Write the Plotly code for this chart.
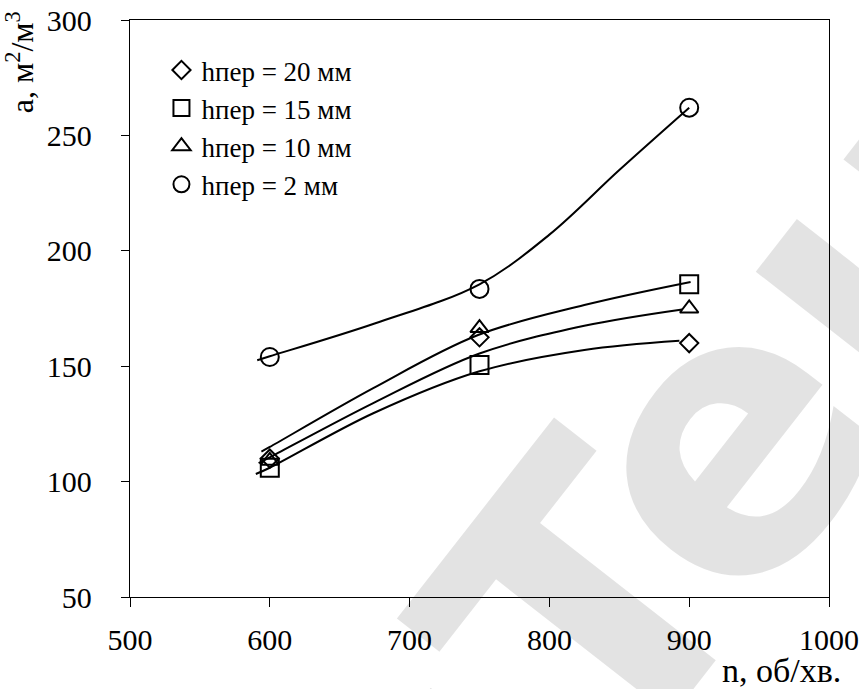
import plotly.graph_objects as go

# --- data ---
n_points = [600, 750, 900]
a_h20 = [110, 162.5, 160]
a_h15 = [106, 150.5, 185.5]
a_h10 = [109, 166.5, 175]
a_h2 = [154, 183.5, 262]

series_names = ["hпер = 20 мм", "hпер = 15 мм", "hпер = 10 мм", "hпер = 2 мм"]

# smooth trend curves as drawn in the picture
curve_a_x = [594, 600, 674, 749, 825, 901]
curve_a_y = [113, 115, 140.5, 163.5, 176.5, 186.5]
curve_b_x = [592, 600, 674, 750, 825, 895]
curve_b_y = [108, 110.5, 134, 155.5, 167.5, 174.6]
curve_c_x = [590, 600, 674, 750, 825, 893]
curve_c_y = [103.3, 106, 129.6, 147.8, 157, 161]
curve_d_x = [591, 600, 675, 750, 800, 850, 900]
curve_d_y = [152.6, 154.3, 168.5, 185.5, 207, 235, 262]

x_ticks = [500, 600, 700, 800, 900, 1000]
y_ticks = [50, 100, 150, 200, 250, 300]

FONT = "Liberation Serif, Times New Roman, serif"

fig = go.Figure()

for cx, cy in [(curve_d_x, curve_d_y), (curve_a_x, curve_a_y),
               (curve_b_x, curve_b_y), (curve_c_x, curve_c_y)]:
    fig.add_trace(go.Scatter(x=cx, y=cy, mode="lines",
                             line=dict(color="black", width=2, shape="spline", smoothing=1.0),
                             showlegend=False, hoverinfo="skip"))

symbols = ["diamond-open", "square-open", "triangle-up-open", "circle-open"]
sizes = [14, 18, 16, 18]
for name, vals, sym, sz in zip(series_names, [a_h20, a_h15, a_h10, a_h2], symbols, sizes):
    fig.add_trace(go.Scatter(x=n_points, y=vals, mode="markers", name=name,
                             marker=dict(symbol=sym, size=sz, color="black",
                                         line=dict(color="black", width=2))))

fig.update_layout(
    width=859, height=689,
    autosize=False,
    margin=dict(l=130, r=30, t=20, b=92, autoexpand=False),
    paper_bgcolor="white", plot_bgcolor="white",
    font=dict(family=FONT, size=30, color="black"),
    showlegend=True,
    legend=dict(x=0.045, y=0.955, xanchor="left", yanchor="top",
                bgcolor="rgba(0,0,0,0)", font=dict(family=FONT, size=27),
                itemwidth=30),
    xaxis=dict(range=[500, 1000], tickvals=x_ticks, ticks="outside", ticklen=9,
               tickwidth=1, tickcolor="black", showline=True, linecolor="black",
               linewidth=1.3, mirror=True, showgrid=False, zeroline=False,
               automargin=False,
               ticklabelstandoff=7, tickfont=dict(family=FONT, size=30)),
    yaxis=dict(range=[50, 300], tickvals=y_ticks, ticks="outside", ticklen=8,
               tickwidth=1, tickcolor="black", showline=True, linecolor="black",
               linewidth=1.3, mirror=True, showgrid=False, zeroline=False,
               automargin=False,
               ticklabelstandoff=23, tickfont=dict(family=FONT, size=30)),
)

fig.add_annotation(text="a, м<sup>2</sup>/м<sup>3</sup>", textangle=-90,
                   xref="paper", yref="paper", x=-0.158, y=1.018,
                   xanchor="center", yanchor="top", showarrow=False,
                   font=dict(family=FONT, size=32))
fig.add_annotation(text="n, об/хв.", xref="paper", yref="paper",
                   x=1.02, y=-0.092, xanchor="right", yanchor="top",
                   showarrow=False, font=dict(family=FONT, size=34))

# light grey watermark
fig.add_annotation(text="<b>uTeu</b>", textangle=-52, xref="paper", yref="paper",
                   x=0.75, y=0.124, xanchor="center", yanchor="middle",
                   showarrow=False, font=dict(family="DejaVu Sans", size=380,
                                              color="rgba(0,0,0,0.11)"))

fig.write_html("out.html", config={"displayModeBar": False},
               post_script="document.body.style.margin='0';")
